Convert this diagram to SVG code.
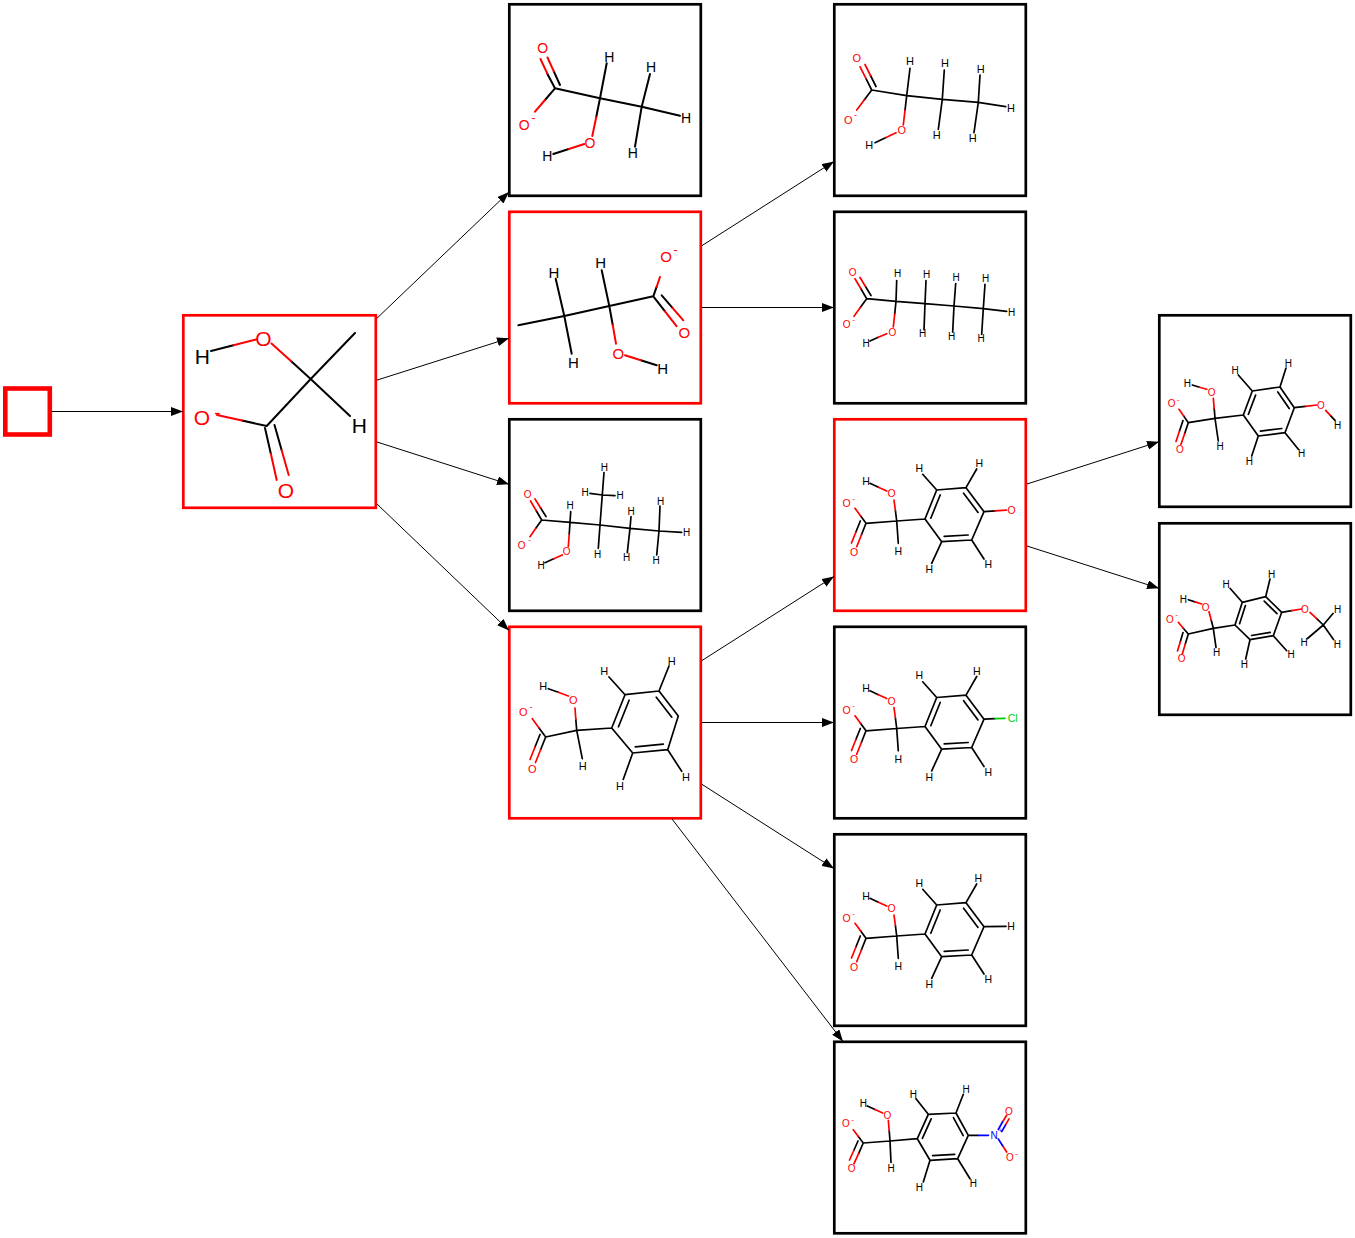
<svg xmlns="http://www.w3.org/2000/svg" width="1355" height="1238" viewBox="0 0 1355 1238">
<defs>
<style>
.k{stroke:#000;fill:none;stroke-width:2;stroke-linecap:round;stroke-linejoin:round}
.r{stroke:#f00;fill:none;stroke-width:2;stroke-linecap:round}
.bl{stroke:#00f;fill:none;stroke-width:2;stroke-linecap:round}
.gr{stroke:#0c0;fill:none;stroke-width:2;stroke-linecap:round}
.s .k,.s .r,.s .bl,.s .gr{stroke-width:1.7}
text{font-family:"Liberation Sans",Arial,sans-serif;text-anchor:middle;dominant-baseline:central}
.tk{fill:#000}.tr{fill:#f00}.tb{fill:#00f}.tg{fill:#0c0}
.box{fill:#fff;stroke:#000;stroke-width:2.7}
.sel{fill:#fff;stroke:#f00;stroke-width:2.7}
.edge{stroke:#000;stroke-width:1;fill:none;marker-end:url(#ah)}
</style>
<marker id="ah" viewBox="0 0 12 9" refX="12" refY="4.5" markerWidth="12" markerHeight="9" markerUnits="userSpaceOnUse" orient="auto"><path d="M0,0L12,4.5L0,9z" fill="#000"/></marker>
</defs>
<rect width="1355" height="1238" fill="#fff"/>

<g id="start"><rect x="5.3" y="388.5" width="44.5" height="46" fill="#fff" stroke="#f00" stroke-width="4.6"/></g>

<g id="root">
<rect class="sel" x="183.3" y="315.3" width="192.5" height="192.5"/>
<path class="k" d="M211,351L233.5,345.2M291.2,361.2L310.7,379M310.7,379L355,333M310.7,379L350,416M310.7,379L266.7,426L242,420.5M265,428L270.9,454M274.5,425L281.6,450"/>
<path class="r" d="M233.5,345.2L256,339.5M271.5,343.5L291.2,361.2M242,420.5L217,415M270.9,454L276.7,480M281.6,450L288.7,475"/>
<g font-size="21">
<text class="tk" x="202.3" y="356.7">H</text>
<text class="tr" x="263.3" y="338.3">O</text>
<text class="tr" x="202" y="417.3">O</text>
<text class="tr" x="217.5" y="412" font-size="19">-</text>
<text class="tr" x="286" y="490">O</text>
<text class="tk" x="359.3" y="425">H</text>
</g>
</g>

<g id="n1" font-size="14">
<rect class="box" x="509.3" y="4.3" width="191.5" height="191.5"/>
<path class="k" d="M555,88.3L547.3,73.7M560,85L553.8,71.3M555,88.3L545,100M555,88.3L600,98.3L606.7,63.3M600,98.3L596.2,117.2M568.8,149L553.3,154M600,98.3L641.7,106.7L650,74M641.7,106.7L680,115.7M641.7,106.7L635,146.7"/>
<path class="r" d="M547.3,73.7L540.5,59M553.8,71.3L547.5,57.5M545,100L535,111.7M596.2,117.2L592.3,136M584.3,144L568.8,149"/>
<text class="tr" x="542.7" y="48.3">O</text>
<text class="tr" x="524.3" y="125">O</text>
<text class="tr" x="533.5" y="118" font-size="12">-</text>
<text class="tk" x="609.3" y="56.7">H</text>
<text class="tk" x="651" y="66.7">H</text>
<text class="tk" x="686" y="117.7">H</text>
<text class="tk" x="632.7" y="153.3">H</text>
<text class="tk" x="547.3" y="155.7">H</text>
<text class="tr" x="590" y="142.7">O</text>
</g>

<g id="n2" font-size="15">
<rect class="sel" x="509.3" y="211.8" width="191.5" height="191.5"/>
<path class="k" d="M518.3,325.3L564.3,316L555.7,278.7M564.3,316L571.7,353.7M564.3,316L609.3,306L601.7,270.3M609.3,306L612.7,324.8M640.8,360.3L656.7,365.3M609.3,306L653.3,296.3L656.7,286.7M653.3,296.3L665,311.3M661.7,295.3L672.5,307.8"/>
<path class="r" d="M612.7,324.8L616,343.7M625,355.3L640.8,360.3M656.7,286.7L660,277M665,311.3L676.7,326.3M672.5,307.8L683.3,320.3"/>
<text class="tr" x="666" y="256">O</text>
<text class="tr" x="675.5" y="250" font-size="12">-</text>
<text class="tr" x="684.3" y="332">O</text>
<text class="tk" x="600.7" y="262.7">H</text>
<text class="tk" x="554" y="272.7">H</text>
<text class="tk" x="573.3" y="362.7">H</text>
<text class="tr" x="618.3" y="353">O</text>
<text class="tk" x="662.7" y="368">H</text>
</g>

<g id="n3" font-size="10" class="s">
<rect class="box" x="509.3" y="419.3" width="191.5" height="191.5"/>
<path class="k" d="M541.7,520L536.1,510.5M546,516.5L540.5,507.8M541.7,520L535.8,528.3M541.7,520L570,522.3L570.7,511.7M570,522.3L569.2,534.5M553.7,558.8L545,562.7M570,522.3L600,525L604,472.5M602.3,495L590,493.3M602.3,495L615,495.7M600,525L598.3,548.3M600,525L630,528.3L631,516.7M630,528.3L627.3,552.7M630,528.3L659,531L660,506M659,531L681.7,532.3M659,531L656.7,555"/>
<path class="r" d="M536.1,510.5L530.5,501M540.5,507.8L535,499M535.8,528.3L530,536.7M569.2,534.5L568.3,546.7M562.3,555L553.7,558.8"/>
<text class="tr" x="527.7" y="494">O</text>
<text class="tr" x="521.7" y="545">O</text>
<text class="tr" x="529.5" y="539.5" font-size="8">-</text>
<text class="tk" x="570" y="505.7">H</text>
<text class="tr" x="566.7" y="551.7">O</text>
<text class="tk" x="541" y="565">H</text>
<text class="tk" x="604.3" y="467.3">H</text>
<text class="tk" x="585" y="492.7">H</text>
<text class="tk" x="620" y="495">H</text>
<text class="tk" x="597.7" y="554.3">H</text>
<text class="tk" x="631" y="511.7">H</text>
<text class="tk" x="626.7" y="557.7">H</text>
<text class="tk" x="660.7" y="501">H</text>
<text class="tk" x="686.7" y="532.7">H</text>
<text class="tk" x="656" y="560.7">H</text>
</g>

<g id="n4" font-size="11" class="s">
<rect class="sel" x="509.3" y="626.8" width="191.5" height="191.5"/>
<path class="k" d="M545.7,737L539,727.9M545.7,737L540.6,749.8M540,734.5L535,747M545.7,737L576.7,730.3L575.8,719.2M558.3,692.3L548.3,688.7M576.7,730.3L582.3,758.7M576.7,730.3L611.7,728M611.7,728L625,694.7L659,691L678.3,716L667.7,749.7L632.7,753ZM618.5,726.8L629.1,700.2M656.3,697.2L671.8,717.2M663.3,744.2L635.3,746.8M625,694.7L609,677M659,691L669,666M667.7,749.7L681.7,771.3M632.7,753L623.3,779.3"/>
<path class="r" d="M539,727.9L532.3,718.7M540.6,749.8L535.5,762.5M535,747L530,759.5M575.8,719.2L575,708M568.3,696L558.3,692.3"/>
<text class="tr" x="523.3" y="712">O</text>
<text class="tr" x="531" y="707" font-size="9">-</text>
<text class="tr" x="532.3" y="768.7">O</text>
<text class="tk" x="543.3" y="686">H</text>
<text class="tr" x="573.3" y="699.7">O</text>
<text class="tk" x="582.7" y="766">H</text>
<text class="tk" x="604.3" y="671">H</text>
<text class="tk" x="671.7" y="661.3">H</text>
<text class="tk" x="686" y="777">H</text>
<text class="tk" x="620" y="786">H</text>
</g>

<g id="n5" font-size="11" class="s">
<rect class="box" x="834.3" y="4.3" width="191.5" height="191.5"/>
<path class="k" d="M871.7,90L865.9,78.4M876,86.5L870.5,75.5M871.7,90L864.2,100M871.7,90L906.7,95.7L910,68.3M906.7,95.7L905,110.4M885.5,137.7L875,142.7M906.7,95.7L942.3,99.3L944.3,70M942.3,99.3L938.3,129.3M942.3,99.3L978.3,102.3L980,75M978.3,102.3L1005.7,106.7M978.3,102.3L974,132.7"/>
<path class="r" d="M865.9,78.4L860,66.7M870.5,75.5L865,64.5M864.2,100L856.7,110M905,110.4L903.3,125M896,132.7L885.5,137.7"/>
<text class="tr" x="856.7" y="58.3">O</text>
<text class="tr" x="848.3" y="120">O</text>
<text class="tr" x="855.5" y="114.5" font-size="9">-</text>
<text class="tk" x="910" y="61">H</text>
<text class="tk" x="945" y="63.3">H</text>
<text class="tk" x="980.7" y="69">H</text>
<text class="tk" x="1011" y="107.7">H</text>
<text class="tk" x="936.7" y="135">H</text>
<text class="tk" x="972.7" y="138.3">H</text>
<text class="tr" x="901.7" y="130">O</text>
<text class="tk" x="869.3" y="145">H</text>
</g>

<g id="n6" font-size="10" class="s">
<rect class="box" x="834.3" y="211.8" width="191.5" height="191.5"/>
<path class="k" d="M866.7,298.7L860.9,288.7M871,295.5L865.5,286.5M866.7,298.7L860.3,307.5M866.7,298.7L896,301.3L896.7,280.5M896,301.3L894.7,314.2M878.3,337.3L870,341M896,301.3L925,303.7L926,280.5M925,303.7L924,329.7M925,303.7L954,306L955.7,283.5M954,306L952.7,332M954,306L983.3,308.7L985,284.3M983.3,308.7L1006.7,311.3M983.3,308.7L981.7,334.3"/>
<path class="r" d="M860.9,288.7L855,278.7M865.5,286.5L860,277.5M860.3,307.5L854,316.3M894.7,314.2L893.3,327M886.7,333.7L878.3,337.3"/>
<text class="tr" x="852.7" y="272.7">O</text>
<text class="tr" x="846.7" y="324.3">O</text>
<text class="tr" x="853.5" y="319.5" font-size="8">-</text>
<text class="tk" x="897.7" y="273">H</text>
<text class="tr" x="892.3" y="332">O</text>
<text class="tk" x="866" y="343.7">H</text>
<text class="tk" x="926.7" y="274.7">H</text>
<text class="tk" x="956" y="277.7">H</text>
<text class="tk" x="985.7" y="278.7">H</text>
<text class="tk" x="1011.7" y="312">H</text>
<text class="tk" x="922.7" y="333.7">H</text>
<text class="tk" x="951.7" y="336">H</text>
<text class="tk" x="981" y="338.7">H</text>
</g>

<g id="n7" font-size="10.5" class="s">
<rect class="sel" x="834.3" y="419.3" width="191.5" height="191.5"/>
<path class="k" d="M866,523.3L860.5,515.8M866,523.3L861.4,535M860.3,521L855.9,532M866,523.3L896.7,521L895.4,510.5M878.4,487.2L870,483.3M896.7,521L898.3,543.3M896.7,521L925,519M925,519L936.7,490L966,487.7L984,511.7L971.7,540L941.7,541.7ZM930.8,518.2L940.2,495M963.6,493.2L978,512.4M968.2,535L944.2,536.4M936.7,490L922.7,474.3M966,487.7L976.7,469M971.7,540L984,559M941.7,541.7L931.7,563.3M984,511.7L995,510.9"/>
<path class="r" d="M860.5,515.8L855,508.3M861.4,535L856.7,546.7M855.9,532L851.5,543M895.4,510.5L894,500M886.7,491L878.4,487.2M995,510.9L1006.5,510.2"/>
<text class="tk" x="866" y="480.7">H</text>
<text class="tr" x="891.7" y="493.3">O</text>
<text class="tr" x="846.7" y="502.7">O</text>
<text class="tr" x="853.5" y="498" font-size="8">-</text>
<text class="tr" x="854" y="551.7">O</text>
<text class="tk" x="898.3" y="551">H</text>
<text class="tk" x="919.3" y="467.7">H</text>
<text class="tk" x="979.3" y="463.3">H</text>
<text class="tk" x="988.3" y="564.3">H</text>
<text class="tk" x="929.3" y="569">H</text>
<text class="tr" x="1011.7" y="510">O</text>
</g>

<g id="n8" font-size="10.5" class="s" transform="translate(0,207.5)">
<rect class="box" x="834.3" y="419.3" width="191.5" height="191.5"/>
<path class="k" d="M866,523.3L860.5,515.8M866,523.3L861.4,535M860.3,521L855.9,532M866,523.3L896.7,521L895.4,510.5M878.4,487.2L870,483.3M896.7,521L898.3,543.3M896.7,521L925,519M925,519L936.7,490L966,487.7L984,511.7L971.7,540L941.7,541.7ZM930.8,518.2L940.2,495M963.6,493.2L978,512.4M968.2,535L944.2,536.4M936.7,490L922.7,474.3M966,487.7L976.7,469M971.7,540L984,559M941.7,541.7L931.7,563.3M984,511.7L995,511.2"/>
<path class="r" d="M860.5,515.8L855,508.3M861.4,535L856.7,546.7M855.9,532L851.5,543M895.4,510.5L894,500M886.7,491L878.4,487.2"/>
<path class="gr" d="M995,511.2L1005,510.8"/>
<text class="tk" x="866" y="480.7">H</text>
<text class="tr" x="891.7" y="493.3">O</text>
<text class="tr" x="846.7" y="502.7">O</text>
<text class="tr" x="853.5" y="498" font-size="8">-</text>
<text class="tr" x="854" y="551.7">O</text>
<text class="tk" x="898.3" y="551">H</text>
<text class="tk" x="919.3" y="467.7">H</text>
<text class="tk" x="976.7" y="463.3">H</text>
<text class="tk" x="988.3" y="564.3">H</text>
<text class="tk" x="929.3" y="569">H</text>
<text class="tg" x="1012.7" y="510.2">Cl</text>
</g>

<g id="n9" font-size="10.5" class="s" transform="translate(0,415)">
<rect class="box" x="834.3" y="419.3" width="191.5" height="191.5"/>
<path class="k" d="M866,523.3L860.5,515.8M866,523.3L861.4,535M860.3,521L855.9,532M866,523.3L896.7,521L895.4,510.5M878.4,487.2L870,483.3M896.7,521L898.3,543.3M896.7,521L925,519M925,519L936.7,490L966,487.7L984,511.7L971.7,540L941.7,541.7ZM930.8,518.2L940.2,495M963.6,493.2L978,512.4M968.2,535L944.2,536.4M936.7,490L922.7,474.3M966,487.7L976.7,469M971.7,540L984,559M941.7,541.7L931.7,563.3M984,511.7L1006,511.3"/>
<path class="r" d="M860.5,515.8L855,508.3M861.4,535L856.7,546.7M855.9,532L851.5,543M895.4,510.5L894,500M886.7,491L878.4,487.2"/>
<text class="tk" x="866" y="480.7">H</text>
<text class="tr" x="891.7" y="493.3">O</text>
<text class="tr" x="846.7" y="502.7">O</text>
<text class="tr" x="853.5" y="498" font-size="8">-</text>
<text class="tr" x="854" y="551.7">O</text>
<text class="tk" x="898.3" y="551">H</text>
<text class="tk" x="919.3" y="467.7">H</text>
<text class="tk" x="978.3" y="463.3">H</text>
<text class="tk" x="988.3" y="564.3">H</text>
<text class="tk" x="929.3" y="569">H</text>
<text class="tk" x="1011" y="511.3">H</text>
</g>

<g id="n10" font-size="10" class="s">
<rect class="box" x="834.3" y="1041.8" width="191.5" height="191.5"/>
<path class="k" d="M863.3,1143L858.3,1136.4M863.3,1143L858.7,1153.4M858,1141L853.8,1150.5M863.3,1143L890,1141L889.2,1130.7M875,1109.5L867.3,1106M890,1141L891,1162.5M890,1141L917.3,1138.7M917.3,1138.7L928.3,1114.3L956,1113L968.3,1135.3L957.7,1158.7L930,1160.3ZM922.4,1138.3L931.2,1118.8M953.4,1117.7L963.2,1135.6M954.7,1154.3L932.6,1155.6M928.3,1114.3L916,1098.7M956,1113L963.3,1094.3M957.7,1158.7L970,1178.7M930,1160.3L923.3,1182M968.3,1135.3L978.5,1135.3"/>
<path class="r" d="M858.3,1136.4L853.3,1129.7M858.7,1153.4L854,1163.7M853.8,1150.5L849.5,1160M889.2,1130.7L888.3,1120.3M882.7,1113L875,1109.5M1002.5,1122L1006.7,1115.3M1005.4,1125.1L1009,1118.8M1002.5,1145.5L1006.7,1152"/>
<path class="bl" d="M978.5,1135.3L988.5,1135.3M998.3,1129.5L1002.5,1122M1001.8,1131.5L1005.4,1125.1M998.3,1139L1002.5,1145.5"/>
<text class="tk" x="863.3" y="1103.7">H</text>
<text class="tr" x="887.3" y="1115.3">O</text>
<text class="tr" x="846" y="1123.7">O</text>
<text class="tr" x="852.5" y="1119" font-size="8">-</text>
<text class="tr" x="851.7" y="1168.7">O</text>
<text class="tk" x="891" y="1168.7">H</text>
<text class="tk" x="913.3" y="1094.3">H</text>
<text class="tk" x="966" y="1089.7">H</text>
<text class="tb" x="994" y="1135.3">N</text>
<text class="tb" x="1000.8" y="1130.5" font-size="7">+</text>
<text class="tr" x="1009" y="1111">O</text>
<text class="tr" x="1010" y="1157.7">O</text>
<text class="tr" x="1016.5" y="1153" font-size="8">-</text>
<text class="tk" x="973.3" y="1183">H</text>
<text class="tk" x="919.3" y="1187">H</text>
</g>

<g id="n11" font-size="10" class="s">
<rect class="box" x="1159.3" y="315.3" width="191.5" height="191.5"/>
<path class="k" d="M1188.3,422.7L1183.7,416M1188.3,422.7L1184.7,433.5M1183,420.5L1179.5,431M1188.3,422.7L1215,418.3L1214.2,408.3M1199.5,387.2L1192.3,385M1215,418.3L1218.3,441M1215,418.3L1243.3,415M1243.3,415L1252.3,391L1280,387L1294.3,407.7L1285,432.7L1258.3,436ZM1248.4,414.3L1255.6,395.1M1277.8,391.9L1289.2,408.5M1281.8,428.5L1260.4,431.1M1252.3,391L1238.3,375M1280,387L1286,368M1285,432.7L1298.3,449.3M1258.3,436L1251.7,456M1294.3,407.7L1305.5,406.4M1330.3,415.3L1335,420.3"/>
<path class="r" d="M1183.7,416L1179,409.3M1184.7,433.5L1181,444.3M1179.5,431L1176,441.5M1214.2,408.3L1213.3,398.3M1206.7,389.3L1199.5,387.2M1305.5,406.4L1316.7,405M1325.7,410.3L1330.3,415.3"/>
<text class="tk" x="1187.3" y="383.3">H</text>
<text class="tr" x="1211.7" y="392.7">O</text>
<text class="tr" x="1171.7" y="403.7">O</text>
<text class="tr" x="1178" y="399" font-size="8">-</text>
<text class="tr" x="1180" y="449.3">O</text>
<text class="tk" x="1220" y="446">H</text>
<text class="tk" x="1235" y="370.3">H</text>
<text class="tk" x="1288.3" y="363.3">H</text>
<text class="tr" x="1321" y="405">O</text>
<text class="tk" x="1337.7" y="425.3">H</text>
<text class="tk" x="1301.7" y="453.7">H</text>
<text class="tk" x="1249.3" y="461.7">H</text>
</g>

<g id="n12" font-size="10" class="s">
<rect class="box" x="1159.3" y="523.3" width="191.5" height="191.5"/>
<path class="k" d="M1188.3,634L1183.3,628.2M1188.3,634L1185.3,644M1183,632.5L1180.3,641.8M1188.3,634L1213.3,628.3L1211.2,620M1195,601.9L1188.3,599.7M1213.3,628.3L1216,647.3M1213.3,628.3L1235,625M1235,625L1242.3,602.3L1265.7,596.7L1281.7,612.3L1273.3,635.7L1250,639.7ZM1239.6,623.7L1245.4,605.6M1264.2,601.1L1277,613.6M1270.2,632.3L1251.6,635.5M1242.3,602.3L1230,588.3M1265.7,596.7L1270,579M1273.3,635.7L1286.7,650.7M1250,639.7L1245.7,659M1281.7,612.3L1291.7,610.7M1316.7,618.7L1323.3,625M1323.3,625L1333,613.5M1323.3,625L1333.5,639.5M1323.3,625L1307.5,638.5"/>
<path class="r" d="M1183.3,628.2L1178.3,622.3M1185.3,644L1182.3,654M1180.3,641.8L1177.5,651M1211.2,620L1209,611.7M1201.7,604L1195,601.9M1291.7,610.7L1301.7,609M1310,612.3L1316.7,618.7"/>
<text class="tk" x="1183.3" y="599.7">H</text>
<text class="tr" x="1205.7" y="607.3">O</text>
<text class="tr" x="1170" y="619">O</text>
<text class="tr" x="1176.5" y="614" font-size="8">-</text>
<text class="tr" x="1181.7" y="658.3">O</text>
<text class="tk" x="1216.7" y="652.3">H</text>
<text class="tk" x="1226" y="584.7">H</text>
<text class="tk" x="1271.7" y="574">H</text>
<text class="tr" x="1305" y="609">O</text>
<text class="tk" x="1337.7" y="609.7">H</text>
<text class="tk" x="1337.3" y="644">H</text>
<text class="tk" x="1304" y="642.3">H</text>
<text class="tk" x="1291" y="654">H</text>
<text class="tk" x="1244.3" y="664.7">H</text>
</g>

<g id="edges">
<line class="edge" x1="52" y1="411.5" x2="183" y2="411.5"/>
<line class="edge" x1="377" y1="318.2" x2="509" y2="192"/>
<line class="edge" x1="377" y1="380.1" x2="509" y2="338.2"/>
<line class="edge" x1="377" y1="442" x2="509" y2="484.3"/>
<line class="edge" x1="377" y1="504" x2="509" y2="630.4"/>
<line class="edge" x1="702" y1="245.6" x2="834" y2="161.4"/>
<line class="edge" x1="702" y1="307.5" x2="834" y2="307.5"/>
<line class="edge" x1="702" y1="660.5" x2="834" y2="576.4"/>
<line class="edge" x1="702" y1="722.5" x2="834" y2="722.5"/>
<line class="edge" x1="702" y1="784.4" x2="834" y2="868.6"/>
<line class="edge" x1="672" y1="819" x2="843" y2="1041.5"/>
<line class="edge" x1="1027" y1="484" x2="1159" y2="441.7"/>
<line class="edge" x1="1027" y1="546" x2="1159" y2="588.3"/>
</g>
</svg>
